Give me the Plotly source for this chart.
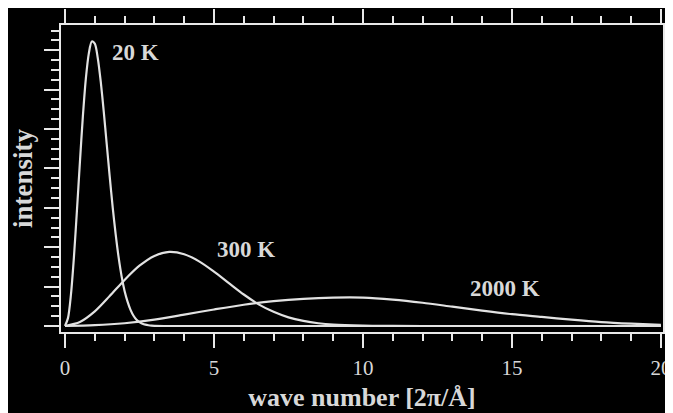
import plotly.graph_objects as go

# wave number [2pi/A]
k_20 = [0.0, 0.1, 0.2, 0.3, 0.4, 0.5, 0.6, 0.7, 0.8, 0.9, 1.0, 1.1, 1.2, 1.3, 1.4,
        1.5, 1.6, 1.7, 1.8, 1.9, 2.0, 2.1, 2.2, 2.3, 2.4, 2.5, 2.6, 2.7, 2.8, 2.9,
        3.0, 3.5, 20.0]
i_20 = [0.0, 0.20, 0.80, 1.75, 2.92, 4.15, 5.32, 6.28, 6.92, 7.22, 7.17, 6.80, 6.20,
        5.45, 4.62, 3.80, 3.02, 2.33, 1.74, 1.26, 0.89, 0.62, 0.41, 0.26, 0.16, 0.10,
        0.06, 0.035, 0.02, 0.01, 0.005, 0.0, 0.0]

k_300 = [0.0, 0.5, 1.0, 1.5, 2.0, 2.5, 3.0, 3.5, 4.0, 4.5, 5.0, 5.5, 6.0, 6.5, 7.0,
         7.5, 8.0, 8.5, 9.0, 10.0, 11.0, 12.0, 20.0]
i_300 = [0.0, 0.10, 0.37, 0.76, 1.17, 1.53, 1.78, 1.88, 1.82, 1.64, 1.38, 1.09, 0.80,
         0.55, 0.36, 0.22, 0.13, 0.07, 0.035, 0.01, 0.003, 0.0, 0.0]

k_2000 = [0.0, 1.0, 2.0, 3.0, 4.0, 5.0, 6.0, 7.0, 8.0, 9.0, 10.0, 11.0, 12.0, 13.0,
          14.0, 15.0, 16.0, 17.0, 18.0, 19.0, 20.0]
i_2000 = [0.0, 0.02, 0.07, 0.16, 0.29, 0.42, 0.54, 0.63, 0.69, 0.72, 0.72, 0.67, 0.59,
          0.49, 0.39, 0.30, 0.23, 0.16, 0.10, 0.06, 0.03]

labels = ["20 K", "300 K", "2000 K"]
label_x = [2.38, 6.07, 14.77]
label_y = [6.93, 1.93, 0.94]

x_ticks = [0, 5, 10, 15, 20]

curve_color = "#e2e2e2"
axis_color = "#e8e8e8"
text_color = "#d8d8d8"
serif = "Liberation Serif"

fig = go.Figure()
for kx, iy in [(k_20, i_20), (k_300, i_300), (k_2000, i_2000)]:
    fig.add_trace(go.Scatter(x=kx, y=iy, mode="lines",
                             line=dict(color=curve_color, width=2.2, shape="spline", smoothing=0.8),
                             showlegend=False, hoverinfo="skip"))

for t, xx, yy in zip(labels, label_x, label_y):
    fig.add_annotation(x=xx, y=yy, text="<b>" + t + "</b>", showarrow=False,
                       font=dict(family=serif, size=23, color=text_color),
                       xanchor="center", yanchor="middle")

# the page body adds an 8px offset; margins compensate for it
fig.update_layout(
    width=673, height=413,
    paper_bgcolor="black", plot_bgcolor="black",
    margin=dict(l=53, r=18, t=17, b=89),
    xaxis=dict(
        range=[-0.134, 20.07], tickmode="array", tickvals=x_ticks,
        ticktext=[str(v) for v in x_ticks],
        showgrid=False, zeroline=False, automargin=False,
        showline=True, linecolor=axis_color, linewidth=2, mirror="ticks",
        ticks="outside", ticklen=14, tickwidth=2, tickcolor=axis_color,
        minor=dict(dtick=1, ticks="outside", ticklen=7, tickwidth=2, tickcolor=axis_color, showgrid=False),
        tickfont=dict(family=serif, size=21, color=text_color),
        ticklabelstandoff=2,
        title=dict(text="<b>wave number [2π/Å]</b>", standoff=9,
                   font=dict(family=serif, size=26, color=text_color)),
    ),
    yaxis=dict(
        range=[-0.152, 7.64], dtick=1, tick0=0,
        showticklabels=False, showgrid=False, zeroline=False, automargin=False,
        showline=True, linecolor=axis_color, linewidth=2, mirror="ticks",
        ticks="outside", ticklen=15, tickwidth=2, tickcolor=axis_color,
        minor=dict(dtick=0.25, ticks="outside", ticklen=8, tickwidth=2, tickcolor=axis_color, showgrid=False),
        title=dict(text="<b>intensity</b>", standoff=8,
                   font=dict(family=serif, size=27, color=text_color)),
    ),
)

fig.write_html("out.html")
